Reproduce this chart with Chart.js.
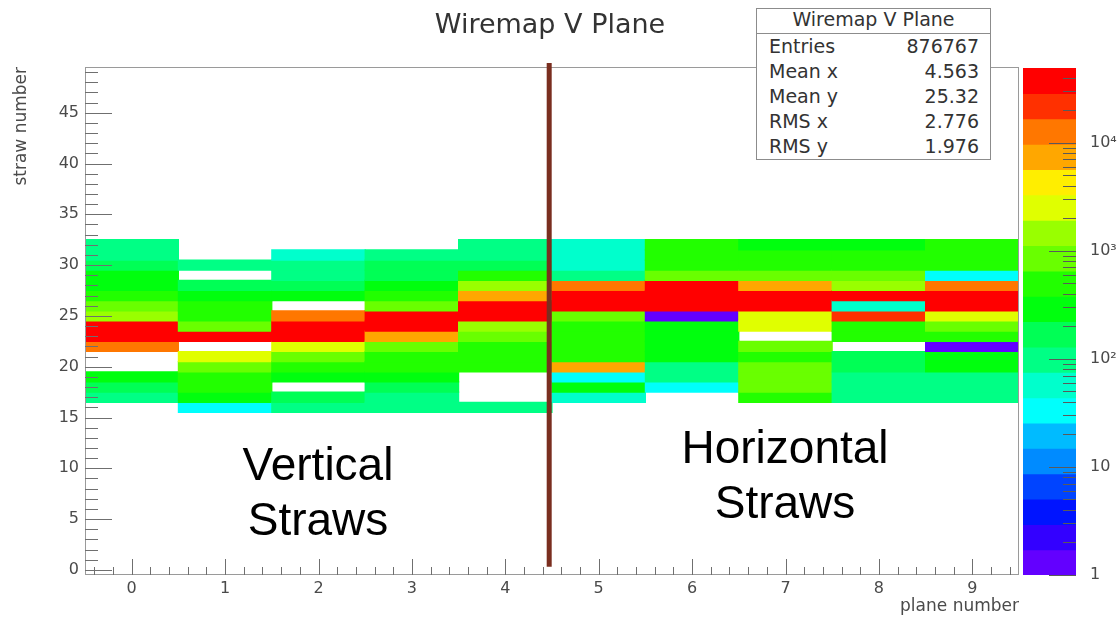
<!DOCTYPE html>
<html>
<head>
<meta charset="utf-8">
<title>Wiremap V Plane</title>
<script src="https://cdn.jsdelivr.net/npm/chart.js@4.4.0/dist/chart.umd.min.js"></script>
<style>
  html, body { margin: 0; padding: 0; background: #fff; }
  #wrap { position: relative; width: 1118px; height: 620px; overflow: hidden; font-family: 'DejaVu Sans', sans-serif; }
  #wrap canvas { position: absolute; top: 0; }
  #wiremap { left: 0; }
  #zbar { left: 1000px; }
  .title { position: absolute; left: 0; top: 8px; width: 1100px; line-height: 32px; text-align: center; font-size: 27px; color: #333; }
  #stats { position: absolute; left: 756px; top: 8px; width: 233px; border: 1px solid #8c8c8c; background: #fff; color: #333; font-size: 19px; }
  #stats .head { height: 24px; line-height: 20px; text-align: center; border-bottom: 1px solid #8c8c8c; }
  #stats .row { display: flex; justify-content: space-between; height: 25px; line-height: 25px; padding: 0 11px 0 12px; }
  .note { position: absolute; width: 300px; text-align: center; font-family: 'Liberation Sans', Arial, sans-serif; font-size: 46px; line-height: 55px; color: #000; }
  #vert { left: 168px; top: 437px; }
  #horiz { left: 635px; top: 420px; }
</style>
</head>
<body>
<div id="wrap">
  <canvas id="wiremap" width="1118" height="620"></canvas>
  <canvas id="zbar" width="118" height="620"></canvas>
  <div class="title">Wiremap V Plane</div>
  <div id="stats">
    <div class="head">Wiremap V Plane</div>
    <div class="row"><span>Entries</span><span>876767</span></div>
    <div class="row"><span>Mean x</span><span>4.563</span></div>
    <div class="row"><span>Mean y</span><span>25.32</span></div>
    <div class="row"><span>RMS x</span><span>2.776</span></div>
    <div class="row"><span>RMS y</span><span>1.976</span></div>
  </div>
  <div class="note" id="vert">Vertical<br>Straws</div>
  <div class="note" id="horiz">Horizontal<br>Straws</div>
</div>
<script>
// hits per straw, straw 16 .. 32, one list per plane (0 = empty bin)
const planes = ['0', '1', '2', '3', '4', '5', '6', '7', '8', '9'];
const firstStraw = 16;
const plane0 = [0, 100, 170, 290, 0, 0, 11000, 35000, 32000, 1800, 900, 450, 350, 250, 150, 120, 100];
const plane1 = [35, 250, 400, 420, 1000, 2500, 0, 30000, 750, 500, 450, 300, 160, 0, 110, 0, 0];
const plane2 = [110, 130, 0, 350, 450, 1100, 2600, 33000, 31000, 11000, 0, 280, 170, 120, 100, 75, 0];
const plane3 = [100, 110, 140, 250, 400, 600, 900, 8000, 30000, 32000, 800, 420, 300, 210, 150, 90, 0];
const plane4 = [100, 0, 0, 0, 420, 450, 480, 800, 1300, 30000, 35000, 7500, 1300, 400, 200, 110, 95];
const plane5 = [0, 70, 350, 35, 6500, 450, 450, 480, 500, 1100, 32000, 30000, 10500, 90, 60, 55, 50];
const plane6 = [0, 0, 40, 90, 120, 300, 320, 340, 300, 1, 34000, 36000, 29000, 800, 600, 420, 380];
const plane7 = [0, 400, 800, 700, 900, 450, 1000, 0, 2800, 2400, 33000, 31000, 7000, 800, 400, 380, 360];
const plane8 = [0, 90, 100, 110, 140, 150, 0, 450, 600, 20000, 55, 30000, 1200, 1000, 450, 380, 350];
const plane9 = [0, 95, 100, 120, 280, 330, 1, 600, 800, 2600, 32000, 30000, 11000, 30, 380, 420, 420];
const planeCounts = [plane0, plane1, plane2, plane3, plane4, plane5, plane6, plane7, plane8, plane9];

const strawTicks = [0, 5, 10, 15, 20, 25, 30, 35, 40, 45];
const zMin = 1;
const zMax = 49000;
const nContours = 20;
const zTicks = [1, 10, 100, 1000, 10000];
const zTickLabels = ['1', '10', '10²', '10³', '10⁴'];

const tickFont = { family: 'DejaVu Sans', size: 16 };
const titleFont = { family: 'DejaVu Sans', size: 17 };
const textColor = '#4a4a4a';

// log z contour a count falls in
function bandOf(n) {
    const k = Math.floor(Math.log10(n / zMin) / Math.log10(zMax / zMin) * nContours);
    return Math.max(0, Math.min(nContours - 1, k));
}

// ROOT pretty palette: 50 hues violet -> red, 20 of them used for the contours
function bandColor(k) {
    const idx = Math.floor((k + 0.99) * 50 / nContours);
    const hue = 280 - (idx + 1) * 5.6;
    return `hsl(${hue}, 100%, 50%)`;
}

const cells = [];
planeCounts.forEach((counts, p) => {
    counts.forEach((n, i) => {
        const s = firstStraw + i;
        if (n > 0) cells.push({ x: planes[p], y: [s - 0.5, s + 0.5], n: n });
    });
});

const bands = [];
for (let k = 0; k < nContours; k++) {
    const lo = zMin * Math.pow(zMax / zMin, k / nContours);
    const hi = zMin * Math.pow(zMax / zMin, (k + 1) / nContours);
    bands.push({ x: 'z', y: [lo, hi], k: k });
}

const rootFrame = {
    id: 'rootFrame',
    afterDatasetsDraw(chart) {
        const { ctx, chartArea: a, scales: { x, y } } = chart;
        ctx.save();
        ctx.lineWidth = 1;
        ctx.strokeStyle = '#9a9a9a';
        ctx.strokeRect(a.left + 0.5, a.top + 0.5, a.right - a.left - 1, a.bottom - a.top - 1);

        // inward ticks, like ROOT
        ctx.strokeStyle = '#6f6f6f';
        ctx.beginPath();
        for (let i = -2; i <= 47; i++) {
            const px = Math.round(x.getPixelForValue(i / 5)) + 0.5;
            const len = i % 5 === 0 ? 16 : 8;
            ctx.moveTo(px, a.bottom);
            ctx.lineTo(px, a.bottom - len);
        }
        for (let s = 0; s <= 49; s++) {
            const py = Math.round(y.getPixelForValue(s)) + 0.5;
            const len = s % 5 === 0 ? 27 : 13;
            ctx.moveTo(a.left, py);
            ctx.lineTo(a.left + len, py);
        }
        ctx.stroke();

        // divider between vertical and horizontal straw planes
        ctx.strokeStyle = '#7a2e1f';
        ctx.lineWidth = 5;
        const bx = x.getPixelForValue(4.47);
        ctx.beginPath();
        ctx.moveTo(bx, a.top - 4);
        ctx.lineTo(bx, y.getPixelForValue(0.3));
        ctx.stroke();
        ctx.restore();
    }
};

const zAxisTicks = {
    id: 'zAxisTicks',
    afterDatasetsDraw(chart) {
        const { ctx, chartArea: a, scales: { y } } = chart;
        ctx.save();
        ctx.strokeStyle = '#5a5a5a';
        ctx.lineWidth = 1;
        ctx.beginPath();
        for (let d = 0; d <= 4; d++) {
            for (let m = 1; m <= 9; m++) {
                const v = m * Math.pow(10, d);
                if (v > zMax) break;
                const py = Math.round(y.getPixelForValue(v)) + 0.5;
                ctx.moveTo(a.right, py);
                ctx.lineTo(a.right - (m === 1 ? 27 : 13), py);
            }
        }
        ctx.stroke();
        ctx.restore();
    }
};

new Chart(document.getElementById('wiremap'), {
    type: 'bar',
    data: {
        labels: planes,
        datasets: [{
            data: cells,
            backgroundColor: (c) => c.raw ? bandColor(bandOf(c.raw.n)) : '#fff',
            borderWidth: 0,
            inflateAmount: 0.6,
            barPercentage: 1,
            categoryPercentage: 1
        }]
    },
    options: {
        responsive: false,
        animation: false,
        devicePixelRatio: 1,
        layout: { padding: { top: 67, right: 99, left: 0, bottom: 0 } },
        plugins: { legend: { display: false }, tooltip: { enabled: false } },
        scales: {
            x: {
                type: 'category',
                offset: true,
                grid: { display: false, drawTicks: false },
                border: { display: false },
                ticks: { font: tickFont, color: textColor, padding: 4, maxRotation: 0, autoSkip: false },
                title: { display: true, text: 'plane number', align: 'end', font: titleFont, color: textColor, padding: { top: 0, bottom: 3 } },
                afterFit: (s) => { s.height = 45; }
            },
            y: {
                type: 'linear',
                min: -0.5,
                max: 49.5,
                afterBuildTicks: (s) => { s.ticks = strawTicks.map(v => ({ value: v })); },
                grid: { display: false, drawTicks: false },
                border: { display: false },
                ticks: { font: tickFont, color: textColor, padding: 6 },
                title: { display: true, text: 'straw number', align: 'end', font: titleFont, color: textColor, padding: { top: 11, bottom: 0 } },
                afterFit: (s) => { s.width = 85; }
            }
        }
    },
    plugins: [rootFrame]
});

new Chart(document.getElementById('zbar'), {
    type: 'bar',
    data: {
        labels: ['z'],
        datasets: [{
            data: bands,
            backgroundColor: (c) => c.raw ? bandColor(c.raw.k) : '#fff',
            borderWidth: 0,
            inflateAmount: 0.6,
            barPercentage: 1,
            categoryPercentage: 1
        }]
    },
    options: {
        responsive: false,
        animation: false,
        devicePixelRatio: 1,
        layout: { padding: { left: 23, top: 68, right: 0, bottom: 45 } },
        plugins: { legend: { display: false }, tooltip: { enabled: false } },
        scales: {
            x: { display: false },
            y: {
                type: 'logarithmic',
                position: 'right',
                min: zMin,
                max: zMax,
                afterBuildTicks: (s) => { s.ticks = zTicks.map(v => ({ value: v })); },
                grid: { display: false, drawTicks: false },
                border: { display: false },
                ticks: { font: tickFont, color: textColor, padding: 14, callback: (v, i) => zTickLabels[i] },
                afterFit: (s) => { s.width = 42; }
            }
        }
    },
    plugins: [zAxisTicks]
});
</script>
</body>
</html>
